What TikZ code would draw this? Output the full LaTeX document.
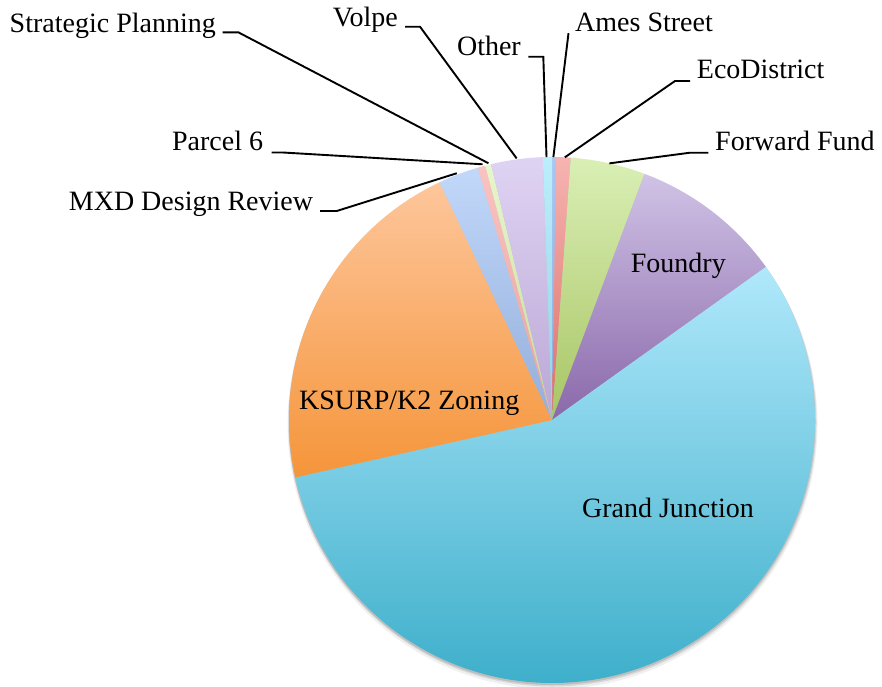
\documentclass[tikz,border=0pt]{standalone}
\usepackage{fontspec}
\setmainfont{Liberation Serif}
\definecolor{amesT}{HTML}{AAC6F3}
\definecolor{amesB}{HTML}{86A5DC}
\definecolor{ecoT}{HTML}{F6B4B1}
\definecolor{ecoB}{HTML}{DC6E69}
\definecolor{fwdT}{HTML}{D9EFB5}
\definecolor{fwdB}{HTML}{A8C564}
\definecolor{fouT}{HTML}{D0C3E6}
\definecolor{fouB}{HTML}{8A68AA}
\definecolor{gjT}{HTML}{B0E8FB}
\definecolor{gjB}{HTML}{3AADC9}
\definecolor{ksT}{HTML}{FDC69B}
\definecolor{ksB}{HTML}{F5953A}
\definecolor{mxdT}{HTML}{C1D8FA}
\definecolor{mxdB}{HTML}{94AEDA}
\definecolor{parT}{HTML}{F9C3C1}
\definecolor{parB}{HTML}{E8A1A0}
\definecolor{strT}{HTML}{E8F6CC}
\definecolor{strB}{HTML}{C6DC9B}
\definecolor{volT}{HTML}{DFD3F3}
\definecolor{volB}{HTML}{BAA7D5}
\definecolor{othT}{HTML}{BCEEFB}
\definecolor{othB}{HTML}{90D1E7}
\begin{document}
\begin{tikzpicture}[x=1pt,y=1pt,
    lbl/.style={inner sep=0pt,font=\fontsize{28}{31}\selectfont},
    leader/.style={draw=black,line width=1.9pt},
    wedge/.style 2 args={top color=#1,bottom color=#2}]
  \useasboundingbox (0,0) rectangle (882,-686);
  \coordinate (c) at (552,-420);
  \fill[black,opacity=0.06] ([shift={(0.5,-4)}]c) circle (265);
  \fill[black,opacity=0.10] ([shift={(0.5,-2.5)}]c) circle (264);
  \fill[black,opacity=0.12] ([shift={(0,-1.5)}]c) circle (263.5);
  \shade[wedge={amesT}{amesB}] (c) -- +(90:263) arc[start angle=90,end angle=89.1,radius=263] -- cycle;
  \shade[wedge={ecoT}{ecoB}] (c) -- +(89.1:263) arc[start angle=89.1,end angle=85.9,radius=263] -- cycle;
  \shade[wedge={fwdT}{fwdB}] (c) -- +(85.9:263) arc[start angle=85.9,end angle=69.4,radius=263] -- cycle;
  \shade[wedge={fouT}{fouB}] (c) -- +(69.4:263) arc[start angle=69.4,end angle=35.6,radius=263] -- cycle;
  \shade[wedge={gjT}{gjB}] (c) -- +(35.6:263) arc[start angle=35.6,end angle=-167.4,radius=263] -- cycle;
  \shade[wedge={ksT}{ksB}] (c) -- +(192.6:263) arc[start angle=192.6,end angle=115.3,radius=263] -- cycle;
  \shade[wedge={mxdT}{mxdB}] (c) -- +(115.3:263) arc[start angle=115.3,end angle=106.4,radius=263] -- cycle;
  \shade[wedge={parT}{parB}] (c) -- +(106.4:263) arc[start angle=106.4,end angle=104.7,radius=263] -- cycle;
  \shade[wedge={strT}{strB}] (c) -- +(104.7:263) arc[start angle=104.7,end angle=103.4,radius=263] -- cycle;
  \shade[wedge={volT}{volB}] (c) -- +(103.4:263) arc[start angle=103.4,end angle=92,radius=263] -- cycle;
  \shade[wedge={othT}{othB}] (c) -- +(92:263) arc[start angle=92,end angle=90,radius=263] -- cycle;
  \coordinate (p-am) at ([shift={(89.7:263)}]c);
  \coordinate (p-eco) at ([shift={(87.2:263)}]c);
  \coordinate (p-ff) at ([shift={(77.4:263)}]c);
  \coordinate (p-ot) at ([shift={(91.2:263)}]c);
  \coordinate (p-vo) at ([shift={(97.7:264)}]c);
  \coordinate (p-sp) at ([shift={(103.9:264.5)}]c);
  \coordinate (p-p6) at ([shift={(105.2:265)}]c);
  \coordinate (p-mxd) at ([shift={(111.1:264.5)}]c);
  \node[lbl,anchor=base east] (sp) at (216,-32.3) {Strategic Planning};
  \node[lbl,anchor=base east] (vo) at (398,-26) {Volpe};
  \node[lbl,anchor=base east] (ot) at (521,-55) {Other};
  \node[lbl,anchor=base east] (p6) at (263.3,-150.7) {Parcel 6};
  \node[lbl,anchor=base east] (mxd) at (313.3,-210) {MXD Design Review};
  \node[lbl,anchor=base west] (am) at (575,-31.7) {Ames Street};
  \node[lbl,anchor=base west] (eco) at (696.7,-78.3) {EcoDistrict};
  \node[lbl,anchor=base west] (ff) at (715,-150) {Forward Fund};
  \node[lbl,anchor=base] (fo) at (678.3,-272.7) {Foundry};
  \node[lbl,anchor=base] (ks) at (409.2,-409.3) {KSURP/K2 Zoning};
  \node[lbl,anchor=base] (gj) at (668,-517.7) {Grand Junction};
  \draw[leader] ([shift={(6.7,0)}]sp.base east) -- ++(15.6,0) -- (p-sp);
  \draw[leader] ([shift={(7,-0.7)}]vo.base east) -- ++(15,0) -- (p-vo);
  \draw[leader] ([shift={(7.3,-1.7)}]ot.base east) -- ++(15,0) -- (p-ot);
  \draw[leader] ([shift={(8.4,-1.8)}]p6.base east) -- ++(11.3,0) -- (p-p6);
  \draw[leader] ([shift={(6.7,-1)}]mxd.base east) -- ++(16.7,0) -- (p-mxd);
  \draw[leader] ([shift={(-6.5,-1.5)}]am.base west) -- (p-am);
  \draw[leader] ([shift={(-6.7,-2.7)}]eco.base west) -- ++(-15,0) -- (p-eco);
  \draw[leader] ([shift={(-6.7,-2.7)}]ff.base west) -- ++(-18.3,0) -- (p-ff);
\end{tikzpicture}
\end{document}
